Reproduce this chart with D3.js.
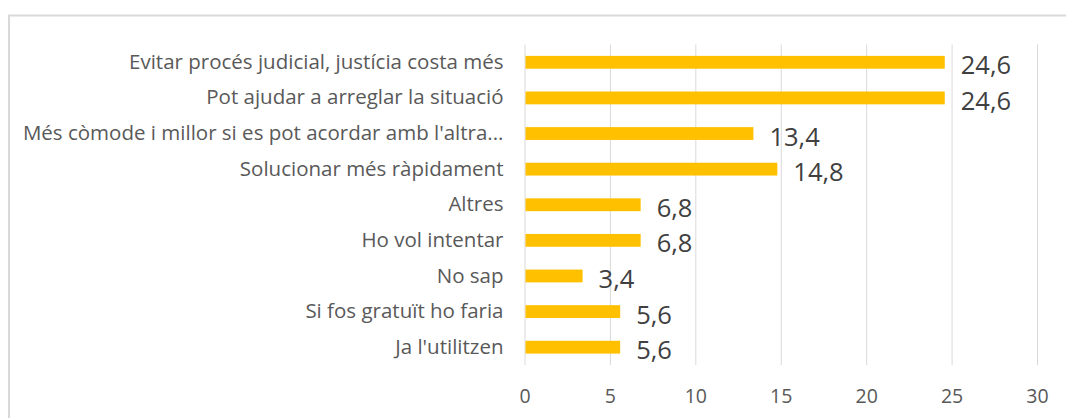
<!DOCTYPE html>
<html>
<head>
<meta charset="utf-8">
<script src="https://cdn.jsdelivr.net/npm/d3@7"></script>
<style>
  html, body { margin: 0; padding: 0; background: #ffffff; }
  svg { display: block; }
</style>
</head>
<body>
<svg id="chart" width="1066" height="418"></svg>
<script>
const categories = [
  "Evitar procés judicial, justícia costa més",
  "Pot ajudar a arreglar la situació",
  "Més còmode i millor si es pot acordar amb l'altra...",
  "Solucionar més ràpidament",
  "Altres",
  "Ho vol intentar",
  "No sap",
  "Si fos gratuït ho faria",
  "Ja l'utilitzen"
];
const values = [24.6, 24.6, 13.4, 14.8, 6.8, 6.8, 3.4, 5.6, 5.6];
const tickValues = [0, 5, 10, 15, 20, 25, 30];

const svg = d3.select("#chart");
const W = 1066, H = 418;
const plot = { left: 524.5, right: 1037, top: 44.5, bottom: 365 };

// outer chart border
svg.append("rect")
  .attr("x", 9).attr("y", 15.5)
  .attr("width", W + 20).attr("height", H + 20)
  .attr("fill", "#ffffff")
  .attr("stroke", "#d9d9d9").attr("stroke-width", 2);

const x = d3.scaleLinear().domain([0, 30]).range([plot.left, plot.right]);
const y = d3.scaleBand().domain(categories).range([plot.top, plot.bottom]).paddingInner(0.64).paddingOuter(0.32);

// gridlines
const grid = svg.append("g")
  .attr("transform", `translate(0,${plot.bottom})`)
  .call(d3.axisBottom(x).tickValues(tickValues).tickSize(-(plot.bottom - plot.top)).tickFormat(""));
grid.select(".domain").remove();
grid.selectAll(".tick line").attr("stroke", "#d9d9d9").attr("stroke-width", 1);

// x axis labels
const xa = svg.append("g")
  .attr("transform", `translate(0,${plot.bottom})`)
  .call(d3.axisBottom(x).tickValues(tickValues).tickSize(0).tickFormat(d3.format("d")));
xa.select(".domain").remove();
xa.selectAll("text")
  .attr("y", 31.5)
  .attr("dy", "0.35em")
  .attr("font-family", "'Open Sans', sans-serif")
  .attr("font-size", 19.5)
  .attr("fill", "#595959");

// y axis labels
const ya = svg.append("g")
  .attr("transform", `translate(${plot.left},0)`)
  .call(d3.axisLeft(y).tickSize(0).tickPadding(21));
ya.select(".domain").remove();
ya.selectAll("text")
  .attr("font-family", "'Open Sans', sans-serif")
  .attr("font-size", 20.5)
  .attr("fill", "#595959");

// bars
svg.append("g").selectAll("rect")
  .data(values)
  .join("rect")
  .attr("x", x(0) + 1)
  .attr("y", (d, i) => y(categories[i]))
  .attr("width", d => x(d) - x(0) - 1)
  .attr("height", y.bandwidth())
  .attr("fill", "#ffc000");

// value labels
const fmt = d => d.toFixed(1).replace(".", ",");
svg.append("g").selectAll("text")
  .data(values)
  .join("text")
  .attr("x", d => x(d) + 16)
  .attr("y", (d, i) => y(categories[i]) + y.bandwidth() / 2 + 2)
  .attr("dominant-baseline", "central")
  .attr("font-family", "'Open Sans', sans-serif")
  .attr("font-size", 25.5)
  .attr("fill", "#404040")
  .text(fmt);
</script>
</body>
</html>
